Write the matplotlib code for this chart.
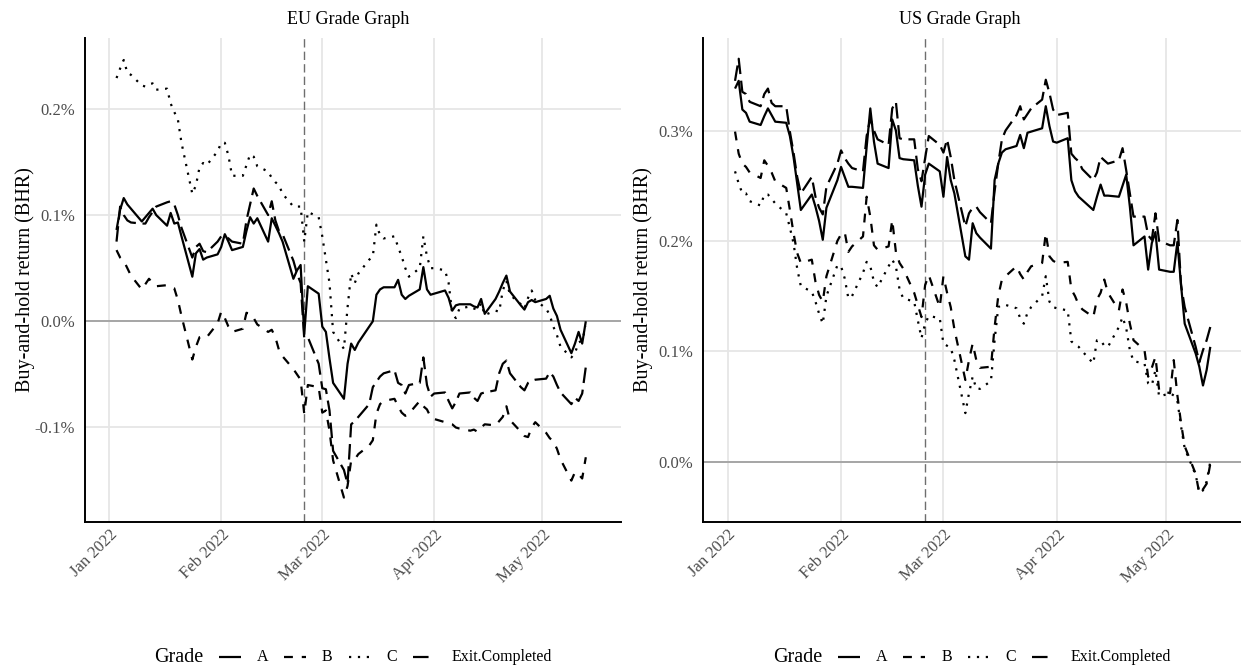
import pandas as pd
import matplotlib
matplotlib.use("Agg")
import matplotlib.pyplot as plt
import matplotlib.dates as mdates
from matplotlib.lines import Line2D

plt.rcParams['font.family'] = ['Liberation Serif', 'DejaVu Serif']

# ------------------------------------------------------------
# data: buy-and-hold return (%), one value per trading day
# ------------------------------------------------------------
dates = pd.bdate_range("2022-01-03", "2022-05-13")   # 95 trading days
event_date = pd.Timestamp("2022-02-24")

grades = ["A", "B", "C", "Exit.Completed"]

# EU panel (rows = weeks)
eu_a = [0.086, 0.105, 0.116, 0.110, 0.106,
        0.094, 0.098, 0.102, 0.106, 0.100,
        0.090, 0.102, 0.092, 0.093, 0.080,
        0.042, 0.064, 0.068, 0.058, 0.060,
        0.063, 0.070, 0.082, 0.075, 0.067,
        0.070, 0.085, 0.098, 0.092, 0.097,
        0.075, 0.097, 0.090, 0.083, 0.075,
        0.040, 0.048, 0.053, -0.012, 0.033,
        0.026, -0.005, -0.010, -0.035, -0.058,
        -0.073, -0.040, -0.021, -0.027, -0.020,
        -0.005, 0.000, 0.025, 0.030, 0.032,
        0.032, 0.039, 0.025, 0.021, 0.024,
        0.030, 0.051, 0.030, 0.025, 0.026,
        0.029, 0.022, 0.010, 0.015, 0.016,
        0.016, 0.014, 0.013, 0.021, 0.007,
        0.021, 0.028, 0.036, 0.043, 0.028,
        0.015, 0.011, 0.018, 0.020, 0.018,
        0.021, 0.024, 0.012, 0.005, -0.008,
        -0.030, -0.021, -0.010, -0.021, 0.000]
eu_b = [0.067, 0.060, 0.057, 0.050, 0.043,
        0.030, 0.035, 0.040, 0.036, 0.033,
        0.034, 0.032, 0.031, 0.020, 0.005,
        -0.036, -0.024, -0.015, -0.014, -0.015,
        -0.002, 0.009, 0.003, -0.005, -0.010,
        -0.007, 0.008, 0.007, 0.003, -0.003,
        -0.010, -0.008, -0.015, -0.027, -0.033,
        -0.045, -0.050, -0.055, -0.087, -0.060,
        -0.062, -0.086, -0.084, -0.103, -0.131,
        -0.166, -0.155, -0.131, -0.130, -0.125,
        -0.117, -0.112, -0.087, -0.078, -0.075,
        -0.073, -0.080, -0.086, -0.089, -0.087,
        -0.075, -0.080, -0.083, -0.090, -0.092,
        -0.095, -0.096, -0.097, -0.100, -0.101,
        -0.103, -0.102, -0.104, -0.100, -0.097,
        -0.098, -0.094, -0.090, -0.080, -0.093,
        -0.104, -0.108, -0.109, -0.100, -0.095,
        -0.105, -0.110, -0.113, -0.120, -0.130,
        -0.150, -0.142, -0.144, -0.148, -0.128]
eu_c = [0.229, 0.238, 0.246, 0.234, 0.232,
        0.222, 0.221, 0.223, 0.224, 0.218,
        0.219, 0.205, 0.197, 0.190, 0.168,
        0.120, 0.128, 0.145, 0.149, 0.147,
        0.160, 0.168, 0.168, 0.156, 0.137,
        0.137, 0.147, 0.157, 0.155, 0.146,
        0.141, 0.135, 0.131, 0.128, 0.120,
        0.108, 0.108, 0.108, 0.075, 0.103,
        0.098, 0.080, 0.058, 0.036, -0.010,
        -0.026, 0.013, 0.045, 0.036, 0.045,
        0.058, 0.061, 0.091, 0.081, 0.078,
        0.080, 0.070, 0.061, 0.050, 0.042,
        0.050, 0.080, 0.061, 0.050, 0.050,
        0.048, 0.036, 0.007, 0.003, 0.012,
        0.014, 0.012, 0.011, 0.017, 0.006,
        0.010, 0.009, 0.029, 0.038, 0.025,
        0.016, 0.012, 0.022, 0.029, 0.020,
        0.012, 0.006, -0.005, -0.013, -0.024,
        -0.034, -0.030, -0.020, -0.018, -0.005]
eu_exit = [0.075, 0.108, 0.100, 0.095, 0.093,
           0.092, 0.092, 0.098, 0.103, 0.108,
           0.112, 0.113, 0.110, 0.100, 0.088,
           0.060, 0.070, 0.073, 0.066, 0.065,
           0.075, 0.080, 0.080, 0.078, 0.075,
           0.073, 0.095, 0.110, 0.125, 0.118,
           0.100, 0.113, 0.095, 0.085, 0.082,
           0.057, 0.045, 0.036, -0.016, -0.015,
           -0.040, -0.063, -0.064, -0.084, -0.122,
           -0.140, -0.153, -0.097, -0.094, -0.090,
           -0.078, -0.062, -0.057, -0.052, -0.049,
           -0.046, -0.058, -0.060, -0.068, -0.060,
           -0.058, -0.034, -0.060, -0.071, -0.068,
           -0.067, -0.075, -0.082, -0.076, -0.068,
           -0.067, -0.072, -0.075, -0.068, -0.067,
           -0.065, -0.049, -0.040, -0.037, -0.049,
           -0.062, -0.065, -0.058, -0.056, -0.055,
           -0.054, -0.048, -0.052, -0.060, -0.067,
           -0.078, -0.072, -0.075, -0.068, -0.043]

# US panel
us_a = [0.338, 0.345, 0.319, 0.316, 0.308,
        0.305, 0.313, 0.320, 0.314, 0.308,
        0.307, 0.295, 0.276, 0.252, 0.228,
        0.242, 0.231, 0.218, 0.201, 0.230,
        0.255, 0.267, 0.258, 0.249, 0.249,
        0.248, 0.285, 0.320, 0.290, 0.270,
        0.266, 0.310, 0.300, 0.275, 0.274,
        0.273, 0.250, 0.231, 0.260, 0.270,
        0.263, 0.240, 0.276, 0.255, 0.243,
        0.186, 0.183, 0.216, 0.207, 0.203,
        0.193, 0.255, 0.270, 0.280, 0.283,
        0.286, 0.296, 0.284, 0.298, 0.299,
        0.302, 0.322, 0.304, 0.290, 0.289,
        0.293, 0.255, 0.245, 0.240, 0.237,
        0.228, 0.240, 0.251, 0.241, 0.241,
        0.240, 0.250, 0.260, 0.231, 0.196,
        0.204, 0.174, 0.198, 0.208, 0.174,
        0.172, 0.172, 0.199, 0.160, 0.125,
        0.098, 0.086, 0.069, 0.083, 0.104]
us_b = [0.299, 0.279, 0.270, 0.267, 0.262,
        0.257, 0.273, 0.268, 0.262, 0.254,
        0.248, 0.228, 0.207, 0.189, 0.180,
        0.183, 0.163, 0.151, 0.145, 0.168,
        0.200, 0.206, 0.208, 0.190, 0.195,
        0.204, 0.240, 0.222, 0.196, 0.192,
        0.195, 0.219, 0.190, 0.180, 0.175,
        0.153, 0.142, 0.131, 0.160, 0.169,
        0.140, 0.168, 0.153, 0.140, 0.120,
        0.074, 0.092, 0.107, 0.092, 0.085,
        0.086, 0.122, 0.150, 0.165, 0.168,
        0.177, 0.170, 0.165, 0.172, 0.177,
        0.180, 0.207, 0.186, 0.182, 0.180,
        0.181, 0.156, 0.150, 0.142, 0.138,
        0.131, 0.147, 0.153, 0.165, 0.153,
        0.137, 0.156, 0.144, 0.125, 0.110,
        0.101, 0.077, 0.085, 0.095, 0.065,
        0.062, 0.092, 0.060, 0.035, 0.014,
        -0.011, -0.029, -0.025, -0.020, -0.002]
us_c = [0.263, 0.252, 0.243, 0.243, 0.236,
        0.232, 0.242, 0.242, 0.238, 0.234,
        0.225, 0.212, 0.198, 0.175, 0.159,
        0.154, 0.145, 0.134, 0.125, 0.150,
        0.178, 0.177, 0.166, 0.148, 0.150,
        0.171, 0.181, 0.177, 0.163, 0.158,
        0.177, 0.183, 0.177, 0.156, 0.148,
        0.145, 0.128, 0.112, 0.125, 0.132,
        0.130, 0.107, 0.105, 0.103, 0.092,
        0.044, 0.062, 0.077, 0.066, 0.066,
        0.073, 0.110, 0.140, 0.142, 0.142,
        0.139, 0.130, 0.125, 0.135, 0.140,
        0.150, 0.168, 0.145, 0.140, 0.139,
        0.137, 0.109, 0.106, 0.104, 0.100,
        0.089, 0.110, 0.110, 0.105, 0.104,
        0.122, 0.131, 0.121, 0.101, 0.091,
        0.089, 0.071, 0.069, 0.083, 0.059,
        0.062, 0.060, 0.055, 0.032, 0.012,
        -0.012, -0.028, -0.026, -0.018, 0.000]
us_exit = [0.345, 0.365, 0.335, 0.333, 0.326,
           0.322, 0.333, 0.338, 0.325, 0.322,
           0.322, 0.299, 0.280, 0.258, 0.243,
           0.258, 0.240, 0.230, 0.224, 0.249,
           0.270, 0.282, 0.275, 0.270, 0.266,
           0.263, 0.295, 0.311, 0.300, 0.292,
           0.287, 0.320, 0.326, 0.293, 0.292,
           0.292, 0.265, 0.254, 0.275, 0.295,
           0.287, 0.280, 0.292, 0.276, 0.255,
           0.213, 0.225, 0.230, 0.231, 0.226,
           0.216, 0.245, 0.270, 0.292, 0.300,
           0.314, 0.322, 0.310, 0.315, 0.320,
           0.328, 0.346, 0.334, 0.319, 0.314,
           0.316, 0.279, 0.275, 0.272, 0.265,
           0.255, 0.262, 0.276, 0.273, 0.270,
           0.273, 0.284, 0.264, 0.243, 0.222,
           0.222, 0.205, 0.201, 0.225, 0.200,
           0.196, 0.196, 0.219, 0.160, 0.140,
           0.104, 0.090, 0.101, 0.110, 0.122]

month_ticks = pd.to_datetime(["2022-01-01", "2022-02-01", "2022-03-01",
                              "2022-04-01", "2022-05-01"])
eu_yticks = [-0.1, 0.0, 0.1, 0.2]
us_yticks = [0.0, 0.1, 0.2, 0.3]

# ------------------------------------------------------------
# styling
# ------------------------------------------------------------
W, H = 1241, 669
LW = 1.6
STYLES = {"A": "solid", "B": (0, (4, 4)), "C": (0, (1, 3)),
          "Exit.Completed": (0, (7, 3))}
GRID = "#e6e6e6"
TICK_COL = "#4d4d4d"


def fx(px):
    return px / W


def fy(py):
    return 1 - py / H


fig = plt.figure(figsize=(W / 100, H / 100), dpi=100)
fig.patch.set_facecolor("white")

jan1 = mdates.date2num(pd.Timestamp("2022-01-01"))

panels = [
    dict(title="EU Grade Graph", series=[eu_a, eu_b, eu_c, eu_exit],
         yticks=eu_yticks, ylim=(-0.1885, 0.2667), title_x=348,
         left=85, right=621, xlim=(jan1 - 6.73, jan1 + 141.75)),
    dict(title="US Grade Graph", series=[us_a, us_b, us_c, us_exit],
         yticks=us_yticks, ylim=(-0.0542, 0.3838), title_x=960,
         left=703.3, right=1241, xlim=(jan1 - 6.68, jan1 + 140.4)),
]

top, bottom = 38, 521.5

for p in panels:
    ax = fig.add_axes([fx(p["left"]), fy(bottom),
                       (p["right"] - p["left"]) / W, (bottom - top) / H])
    ax.set_facecolor("white")
    ax.set_axisbelow(True)
    ax.grid(True, color=GRID, lw=1.3)
    for s in ["top", "right"]:
        ax.spines[s].set_visible(False)
    for s in ["left", "bottom"]:
        ax.spines[s].set_color("black")
        ax.spines[s].set_linewidth(1.4)

    ax.axhline(0, color="#a6a6a6", lw=1.4, zorder=1.5)
    ax.axvline(event_date, color="#6e6e6e", lw=1.0,
               linestyle=(0, (6, 3)), zorder=1.6)

    for g, vals in zip(grades, p["series"]):
        ax.plot(dates, vals, color="black", lw=LW, linestyle=STYLES[g],
                solid_capstyle="butt", dash_capstyle="butt",
                solid_joinstyle="round", zorder=3)

    ax.set_xlim(*p["xlim"])
    ax.set_ylim(*p["ylim"])
    ax.set_xticks(month_ticks)
    ax.xaxis.set_major_formatter(mdates.DateFormatter("%b %Y"))
    ax.set_yticks(p["yticks"])
    ax.set_yticklabels([f"{v:.1f}%" for v in p["yticks"]])
    ax.tick_params(length=0, labelsize=12, labelcolor=TICK_COL)
    ax.tick_params(axis="y", pad=7)
    ax.tick_params(axis="x", pad=4)
    for lab in ax.get_xticklabels():
        lab.set_rotation(45)
        lab.set_ha("right")
        lab.set_va("top")
        lab.set_rotation_mode("anchor")

    fig.text(fx(p["title_x"]), fy(19), p["title"], ha="center", va="center",
             fontsize=13, color="black")
    fig.text(fx(p["left"] - 60), fy((top + bottom) / 2),
             "Buy-and-hold return (BHR)", rotation=90,
             ha="center", va="center", fontsize=14.5, color="black")
    p["cx"] = (p["left"] + p["right"]) / 2

# ------------------------------------------------------------
# legends (one per panel, ggplot-like, below the plot)
# ------------------------------------------------------------
renderer = fig.canvas.get_renderer()
KEY = 22
LEG_Y = 657


def text_width(t):
    return t.get_window_extent(renderer=renderer).width


for p in panels:
    items = []
    t = fig.text(0, fy(LEG_Y), "Grade", ha="left", va="center", fontsize=14.5)
    items.append(("text", t, text_width(t), 15))
    for g in grades:
        items.append(("key", g, KEY, 16))
        t = fig.text(0, fy(LEG_Y), g, ha="left", va="center", fontsize=11.5)
        items.append(("text", t, text_width(t), 16))
    total = sum(w + gap for _, _, w, gap in items) - items[-1][3]
    x = p["cx"] - total / 2
    for kind, obj, w, gap in items:
        if kind == "text":
            obj.set_x(fx(x))
        else:
            fig.add_artist(Line2D([fx(x), fx(x + w)], [fy(LEG_Y), fy(LEG_Y)],
                                  transform=fig.transFigure, color="black",
                                  lw=LW, linestyle=STYLES[obj],
                                  solid_capstyle="butt", dash_capstyle="butt"))
        x += w + gap

fig.savefig("out.png", dpi=100, facecolor="white")
